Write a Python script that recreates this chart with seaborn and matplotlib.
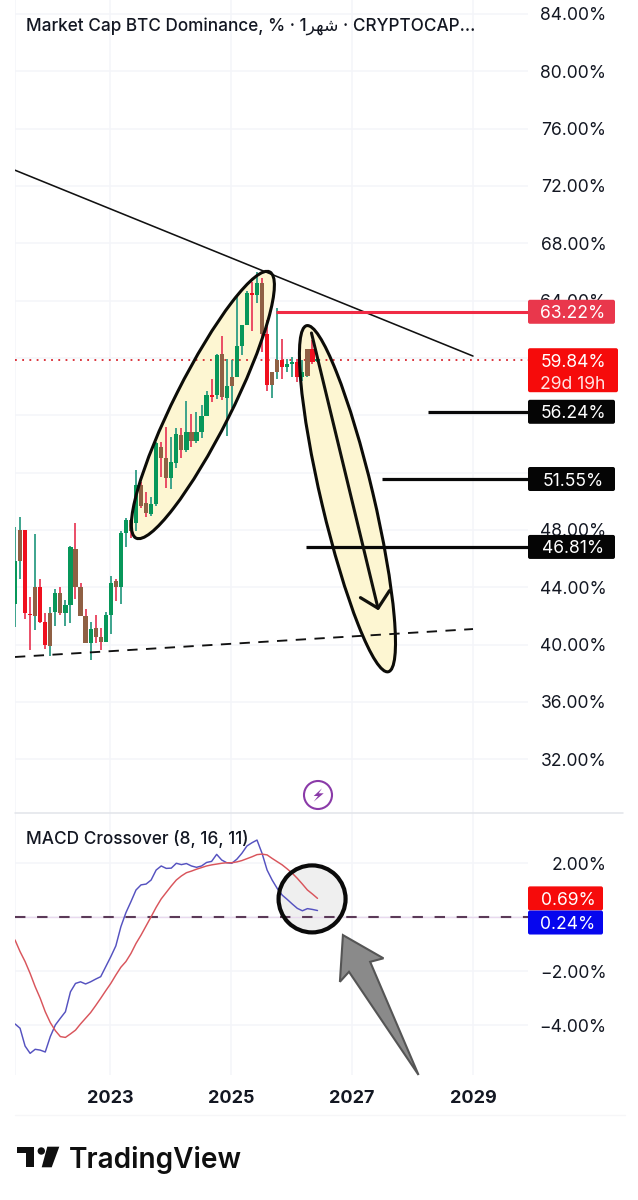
import numpy as np
import pandas as pd
import seaborn as sns
import matplotlib
matplotlib.use("Agg")
import matplotlib.pyplot as plt
from matplotlib.patches import Ellipse, Circle, Polygon, FancyBboxPatch
from matplotlib.lines import Line2D
from matplotlib.transforms import IdentityTransform

# Monthly BTC dominance candles, June 2021 onward
opens = [42.8, 48.0, 48.0, 42.1, 44.0, 44.0, 41.6, 42.2, 42.25, 43.6, 42.2, 42.75, 46.7, 44.0, 42.0, 40.1,
         41.15, 40.5, 40.2, 42.05, 44.4, 44.0, 47.75, 48.7, 48.5, 51.1, 49.85, 49.1, 49.8, 53.8, 53.0, 51.6,
         52.7, 54.6, 53.55, 54.85, 54.2, 54.8, 55.95, 57.4, 57.4, 60.25, 57.2, 58.7, 58.7, 60.85, 62.3, 64.5,
         64.4, 65.2, 61.7, 59.05, 59.85, 59.85, 59.4, 59.55, 59.7, 58.7, 58.75, 60.6, 59.8]
highs = [48.2, 48.9, 48.0, 43.3, 47.7, 44.6, 42.2, 42.6, 43.9, 44.0, 43.1, 46.9, 48.45, 44.3, 42.45, 41.6,
         42.05, 41.15, 42.3, 44.8, 44.6, 47.9, 48.8, 48.75, 52.2, 51.35, 50.65, 50.3, 54.15, 54.15, 55.2, 54.5,
         55.1, 55.1, 57.0, 56.1, 56.25, 56.7, 57.7, 58.55, 60.25, 61.5, 59.9, 59.85, 64.3, 62.3, 64.7, 65.3,
         66.0, 65.55, 62.65, 59.05, 63.45, 61.35, 59.9, 60.05, 59.9, 59.85, 60.65, 61.25, 59.9]
lows = [41.25, 44.55, 41.8, 39.6, 41.0, 41.5, 39.7, 39.2, 41.3, 42.05, 41.3, 41.5, 43.15, 42.0, 40.1, 38.9,
        40.1, 39.6, 40.2, 40.7, 43.05, 42.85, 46.8, 47.4, 47.9, 49.5, 48.9, 49.0, 49.7, 51.7, 50.9, 50.85,
        52.3, 53.0, 53.45, 53.75, 54.05, 54.4, 55.95, 56.95, 57.1, 57.05, 54.55, 56.5, 58.7, 60.2, 62.3, 61.9,
        63.8, 60.4, 57.7, 57.2, 58.55, 58.5, 59.05, 58.7, 58.35, 58.4, 58.65, 59.6, 59.75]
closes = [45.8, 45.8, 42.2, 42.05, 42.0, 41.6, 40.0, 39.9, 43.6, 42.2, 42.75, 46.8, 44.0, 42.0, 40.1, 41.05,
          40.5, 40.15, 42.05, 44.3, 44.0, 47.75, 48.7, 47.9, 51.1, 49.7, 49.15, 49.8, 54.05, 53.0, 51.6, 52.75,
          54.7, 53.55, 54.85, 54.2, 54.8, 55.95, 57.4, 57.3, 60.2, 57.25, 58.05, 58.05, 60.85, 62.3, 64.5, 64.4,
          65.2, 61.7, 58.1, 58.1, 59.05, 59.4, 59.55, 59.7, 58.7, 59.05, 60.6, 59.75, 59.84]
body_tones = list("gmrrmrrmgm" "ggmmmgmmgg" "mggmgmmggm" "mggmgmgggr" "gmgmgggrgm" "rmmrggrgmrg")
wick_tones = list("ggrrgrrggr" "ggrrrgrrgg" "rggrgrrggr" "rggrgrgggr" "grgggggrgr" "rggrggrggrg")

# MACD (8, 16, 11) and its signal line, in percent
macd_line = [-3.96, -4.12, -4.78, -5.05, -4.90, -4.93, -5.00, -4.43, -4.00, -3.75, -3.51, -2.77, -2.46, -2.40,
             -2.48, -2.40, -2.30, -2.21, -1.84, -1.47, -1.07, -0.36, 0.16, 0.57, 1.00, 1.19, 1.22, 1.37, 1.74,
             1.89, 1.80, 1.81, 1.99, 1.94, 1.98, 1.89, 1.84, 1.89, 2.02, 2.06, 2.32, 2.11, 2.01, 1.99, 2.14,
             2.36, 2.63, 2.75, 2.85, 2.36, 1.74, 1.37, 1.06, 0.81, 0.65, 0.48, 0.32, 0.23, 0.31, 0.28, 0.24]
signal_line = [-0.85, -1.28, -1.65, -2.09, -2.58, -3.01, -3.51, -3.91, -4.21, -4.43, -4.46, -4.33, -4.19, -3.96,
               -3.75, -3.54, -3.28, -3.01, -2.73, -2.46, -2.15, -1.86, -1.65, -1.35, -0.98, -0.67, -0.33, 0.01,
               0.36, 0.67, 0.91, 1.15, 1.37, 1.52, 1.64, 1.70, 1.77, 1.83, 1.89, 1.93, 1.96, 1.99, 2.01, 2.01,
               2.04, 2.09, 2.16, 2.23, 2.31, 2.33, 2.30, 2.17, 2.05, 1.93, 1.78, 1.62, 1.43, 1.22, 1.00, 0.85, 0.69]

# Price levels drawn on the chart
last_price = 59.84
level_resistance = 63.22
levels_support = [56.24, 51.55, 46.81]
level_starts = [2028.25, 2027.50, 2026.24]
macd_tag = 0.69
signal_tag = 0.24

price_ticks = [32, 36, 40, 44, 48, 52, 56, 60, 64, 68, 72, 76, 80, 84]
covered_price_ticks = [52, 56, 60]
macd_ticks = [-4, -2, 0, 2]
covered_macd_ticks = [0]
year_ticks = [2023, 2025, 2027, 2029]

W, H = 638, 1200
UI = ["Inter", "DejaVu Sans"]
INK = "#131722"
GRID = "#f4f5f9"

sns.set_theme(style="white")
plt.rcParams["font.family"] = UI

fig = plt.figure(figsize=(W / 100, H / 100), dpi=100, facecolor="white")
L, R = 15, 528


def pane(top, bottom):
    return fig.add_axes([L / W, 1 - bottom / H, (R - L) / W, (bottom - top) / H])


def tick_text(value, covered):
    return "" if value in covered else f"{value:.2f}%".replace("-", "\u2212")


ax = pane(0, 813)
mx = pane(813, 1075)
year0 = 2023 - 95 / 60.5
year1 = 2023 + 418 / 60.5
for a in (ax, mx):
    a.set_xlim(year0, year1)
    a.set_facecolor("none")
    sns.despine(ax=a, left=True, right=True, top=True, bottom=True)
    a.set_xticks(year_ticks)
    a.grid(True, color=GRID, lw=1.1, zorder=0)
    a.set_axisbelow(True)
    a.axvline(year0, color=GRID, lw=1.1, zorder=0)
ax.set_ylim(84 - 799 / 14.33, 84 + 14 / 14.33)
mx.set_ylim(-158 / 27, 104 / 27)
ax.set_yticks(price_ticks)
ax.set_yticklabels([tick_text(t, covered_price_ticks) for t in price_ticks])
mx.set_yticks(macd_ticks)
mx.set_yticklabels([tick_text(t, covered_macd_ticks) for t in macd_ticks])
ax.tick_params(axis="x", length=0, labelbottom=False)
mx.tick_params(axis="x", length=0, pad=11, labelsize=13, labelcolor=INK)
for label in mx.get_xticklabels():
    label.set_fontweight("bold")
for a in (ax, mx):
    a.yaxis.tick_right()
    a.tick_params(axis="y", length=0, pad=56.5, labelsize=12.6, labelcolor=INK)
    for label in a.get_yticklabels():
        label.set_ha("right")

# Candles
months = year0 + np.arange(len(closes)) / 12
candles = pd.DataFrame({"year": months, "open": opens, "high": highs, "low": lows, "close": closes,
                        "tone": body_tones, "wick": wick_tones})
body_colors = {"g": "#07975a", "r": "#f0101e", "m": "#8f6044"}
wick_colors = {"g": "#2e9d85", "r": "#e8405c"}
ax.vlines(candles["year"], candles["low"], candles["high"],
          colors=candles["wick"].map(wick_colors), lw=1.3, zorder=3)
ax.bar(candles["year"], (candles["close"] - candles["open"]).abs().clip(lower=0.1),
       bottom=candles[["open", "close"]].min(axis=1), width=4.2 / 60.5,
       color=candles["tone"].map(body_colors), lw=0, zorder=3.1)


def px(axis, year, value):
    return axis.transData.transform((year, value))


def sketch_ellipse(axis, tip_a, tip_b, width):
    a, b = px(axis, *tip_a), px(axis, *tip_b)
    center = (a + b) / 2
    length = np.hypot(*(a - b))
    angle = np.degrees(np.arctan2(*(a - b)[::-1]))
    for kw, z in ((dict(fc="#fdf6d2", ec="none"), 1.5), (dict(fc="none", ec="#0c0c08", lw=2.2), 5)):
        axis.add_patch(Ellipse(center, length, width, angle=angle, transform=IdentityTransform(), zorder=z, **kw))


fig.canvas.draw()
sketch_ellipse(ax, (2025.64, 66.0), (2023.43, 47.43), 57)
sketch_ellipse(ax, (2026.25, 62.25), (2027.60, 38.1), 52)

# Trend lines and levels
sns.lineplot(x=[year0, 2029.0], y=[73.1, 60.13], ax=ax, color="#111111", lw=1.15, zorder=4)
sns.lineplot(x=[year0, 2029.0], y=[39.13, 41.08], ax=ax, color="#111111", lw=1.35, zorder=6,
             linestyle=(0, (5.5, 4.5)))
ax.axhline(last_price, color="#d8242c", lw=1.3, linestyle=(0, (1, 3)), zorder=2.5)
ax.hlines(level_resistance, 2025.74, year1, color="#f02b45", lw=2.2, zorder=4)
ax.hlines(levels_support, level_starts, year1, color="#080808", lw=2.3, zorder=6)

# Projected move arrow
ax.plot([2026.33, 2027.43], [61.74, 42.53], color="#11110c", lw=2.2, zorder=6)
ax.plot([2027.14, 2027.43, 2027.62], [43.27, 42.53, 43.76], color="#11110c", lw=2.3, zorder=6)

# MACD pane
cc = px(mx, 2026.34, 0.67)
mx.add_patch(Circle(cc, 33.5, fc="#efefef", ec="none", transform=IdentityTransform(), zorder=1.5))
mx.axhline(0, color="#e9d9ee", lw=1.0, zorder=2)
mx.axhline(0, color="#5b3a58", lw=1.5, linestyle=(0, (5, 5.6)), zorder=2.2)
macd_df = pd.DataFrame({"year": months, "macd": macd_line, "signal": signal_line})
sns.lineplot(data=macd_df, x="year", y="macd", ax=mx, color="#5552c0", lw=1.05, zorder=3)
sns.lineplot(data=macd_df, x="year", y="signal", ax=mx, color="#d9555c", lw=1.05, zorder=3)
mx.add_patch(Circle(cc, 33.5, fc="none", ec="#0a0a0a", lw=3.0, transform=IdentityTransform(), zorder=5))
mx.add_patch(Polygon([(2026.85, -0.67), (2027.52, -1.53), (2027.30, -1.66), (2028.10, -5.85),
                      (2026.95, -2.03), (2026.80, -2.40)], closed=True,
                     fc="#8a8a8a", ec="#555555", lw=1.5, zorder=5, clip_on=False))
ax.set_xlabel("")
ax.set_ylabel("")
mx.set_xlabel("")
mx.set_ylabel("")
fig.canvas.draw()


def fig_xy(x, y):
    return x / W, 1 - y / H


def tag(axis, value, text, color, x1=615, height=24, text_x=573, shift=0):
    # shift nudges a tag down so that neighbouring tags stack instead of colliding
    y = axis.transData.transform((0, value))[1] - shift
    fig.add_artist(FancyBboxPatch((528 + 2, y - height / 2 + 2), x1 - 528 - 4, height - 4,
                                  boxstyle="round,pad=2,rounding_size=2", fc=color, ec="none",
                                  transform=IdentityTransform(), zorder=3))
    fig.text(text_x / W, y / H, text, color="white", fontsize=12.6, ha="center", va="center_baseline", zorder=4)


tag(ax, level_resistance, f"{level_resistance:.2f}%", "#e9374c")
for level in levels_support:
    tag(ax, level, f"{level:.2f}%", "#050505")
y_last = ax.transData.transform((0, last_price))[1]
fig.add_artist(FancyBboxPatch((530, y_last - 30), 86, 40, boxstyle="round,pad=2,rounding_size=2", fc="#f60b0b",
                              ec="none", transform=IdentityTransform(), zorder=3))
fig.text(573 / W, y_last / H, f"{last_price:.2f}%", color="white", fontsize=12.6, ha="center",
         va="center_baseline", zorder=4)
fig.text(573 / W, (y_last - 22) / H, "29d 19h", color="#ffe3e3", fontsize=12.6, ha="center",
         va="center_baseline", zorder=4)
tag(mx, macd_tag, f"{macd_tag:.2f}%", "#f60b0b", x1=603, text_x=568)
tag(mx, signal_tag, f"{signal_tag:.2f}%", "#0606ee", x1=603, text_x=568, shift=12)

# Pane divider and footer rule
fig.add_artist(Line2D([15 / W, 623 / W], [1 - 813 / H] * 2, color="#e2e4ea", lw=1.1))
fig.add_artist(Line2D([15 / W, 625 / W], [1 - 1115 / H] * 2, color="#f6f6f8", lw=1.0))

# Titles
title = "Market Cap BTC Dominance, % \u00b7 1\ufeae\ufeec\ufeb7 \u00b7 CRYPTOCAP..."
fig.text(*fig_xy(26, 26.5), title, color=INK, fontsize=12.35, va="center", family=UI, weight="medium", zorder=8)
fig.text(*fig_xy(26, 839.5), "MACD Crossover (8, 16, 11)", color=INK, fontsize=12.4, va="center", weight="medium", zorder=8)

# Lightning badge
fig.add_artist(Circle((318, H - 795), 14, fc="white", ec="#8a3aa8", lw=1.5, transform=IdentityTransform(), zorder=6))
bolt = np.array([(4, -6.7), (-4.3, 1), (0, 1), (-4.3, 6.7), (5.7, -1.7), (0.7, -1.7)])
fig.add_artist(Polygon(np.c_[318 + bolt[:, 0], H - 795 - bolt[:, 1]], closed=True, fc="#8a3aa8", ec="none",
                       transform=IdentityTransform(), zorder=7))

# TradingView wordmark
logo = "#0f0f0f"
for pts in ([(17.3, 1146.7), (34.3, 1146.7), (34.3, 1167.3), (26, 1167.3), (26, 1153.3), (17.3, 1153.3)],
            [(47.3, 1146.7), (59.3, 1146.7), (51.7, 1167.3), (41.7, 1167.3)]):
    fig.add_artist(Polygon([(x, H - y) for x, y in pts], closed=True, fc=logo, ec="none",
                           transform=IdentityTransform()))
fig.add_artist(Circle((41.3, H - 1151), 3.7, fc=logo, ec="none", transform=IdentityTransform()))
fig.text(*fig_xy(69, 1167.7), "TradingView", color=logo, fontsize=20.2, va="baseline", weight="semibold")

fig.savefig("out.png", dpi=100, facecolor="white")
